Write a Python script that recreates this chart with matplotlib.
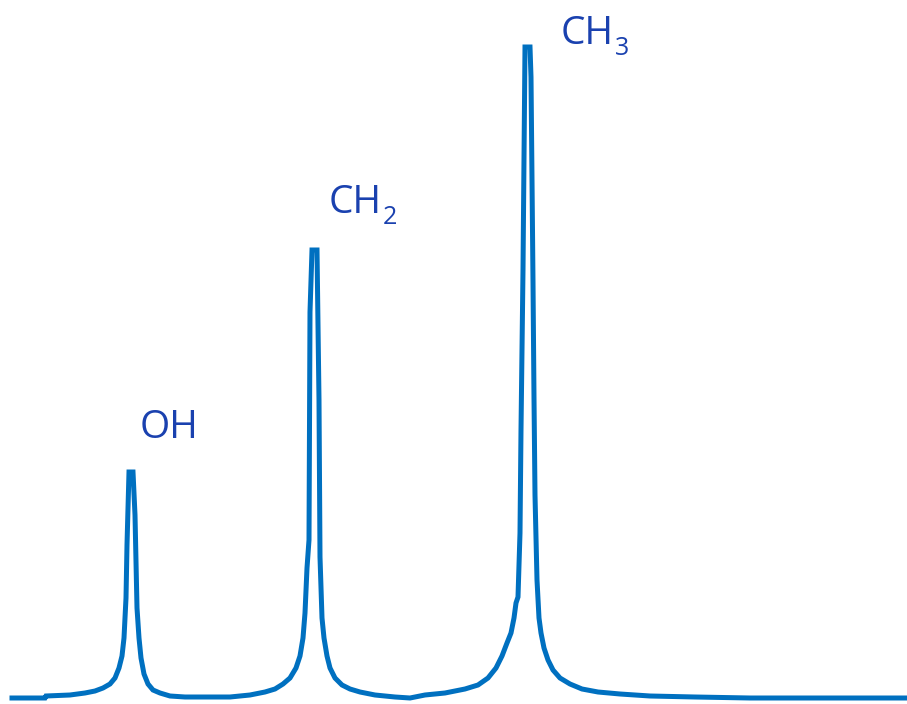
import matplotlib
matplotlib.use("Agg")
import matplotlib.pyplot as plt

# Spectrum trace (x position, intensity above baseline)
shift = [12, 45, 46, 70, 85, 95, 103, 110, 115, 119, 122, 124, 126, 127, 129, 133,
         135, 137, 139, 141, 144, 148, 153, 160, 170, 185, 230, 250, 265, 275, 283,
         290, 296, 300, 303, 305, 307, 309, 310, 312, 317, 319, 320, 322, 324, 327,
         330, 335, 342, 350, 360, 375, 395, 410, 425, 445, 465, 478, 488, 496, 502,
         507, 511, 514, 516, 518, 520, 521, 523, 525, 530, 531, 533, 534, 535, 537,
         539, 541, 544, 548, 553, 560, 570, 582, 598, 620, 650, 695, 750, 905]
intensity = [0, 0, 2, 3, 5, 7, 10, 14, 20, 30, 42, 60, 100, 153, 226, 226,
             183, 90, 60, 40, 24, 14, 8, 5, 2, 1, 1, 3, 6, 9, 14,
             20, 30, 42, 60, 85, 130, 158, 386, 448, 448, 298, 141, 80, 60, 42,
             30, 20, 13, 9, 6, 3, 1, 0, 3, 5, 9, 13, 20, 30, 42,
             55, 65, 80, 95, 101, 165, 268, 428, 651, 651, 621, 416, 300, 203, 118,
             80, 65, 50, 38, 28, 20, 14, 9, 6, 4, 2, 1, 0, 0]

label_main = ["OH", "CH", "CH"]
label_sub = ["", "2", "3"]

W, H = 907, 704
fig = plt.figure(figsize=(W / 100, H / 100), dpi=100)
ax = fig.add_axes([0, 0, 1, 1])
ax.plot(shift, intensity, color="#0070C0", lw=3.6, solid_joinstyle="miter")
ax.set_xlim(0, W)
ax.set_ylim(698 - H, 698)
ax.axis("off")

renderer = fig.canvas.get_renderer()
label_pos = [(140, 438), (329, 213), (561, 44)]
color = "#1A41AF"
for main, sub, (px, py) in zip(label_main, label_sub, label_pos):
    t = fig.text(px / W, 1 - py / H, main, fontsize=28, family="Open Sans",
                 color=color, ha="left", va="baseline")
    if sub:
        bb = t.get_window_extent(renderer)
        fig.text((bb.x1 + 1) / W, 1 - (py + 11) / H, sub, fontsize=18,
                 family="Open Sans", color=color, ha="left", va="baseline")

fig.savefig("out.png", dpi=100, facecolor="white")
